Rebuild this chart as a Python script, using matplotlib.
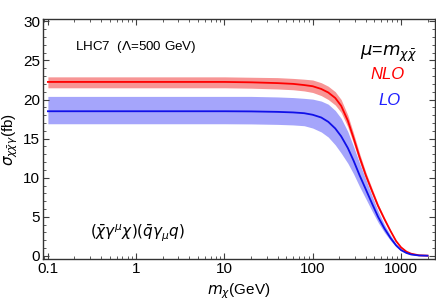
import numpy as np
import matplotlib
matplotlib.use("Agg")
import matplotlib.pyplot as plt
from matplotlib.ticker import LogLocator, MultipleLocator, FixedLocator, FixedFormatter, NullFormatter

plt.rcParams["font.family"] = ["Liberation Sans", "DejaVu Sans"]
plt.rcParams["mathtext.fontset"] = "dejavusans"

# dark-matter mass (GeV)
mass = [0.1, 0.3, 1, 3, 10, 20, 40, 60, 80, 100, 125, 150, 180, 210, 250, 290, 340,
        400, 470, 550, 650, 760, 880, 1000, 1150, 1300, 1600, 2000]
# NLO cross section (fb): central, upper, lower scale band
nlo = [22.25, 22.25, 22.25, 22.25, 22.25, 22.2, 22.1, 22.0, 21.85, 21.7, 21.35, 20.9, 20.2, 19.2, 17.3, 15.1, 12.6,
       10.3, 8.3, 6.4, 4.7, 3.2, 1.9, 1.1, 0.55, 0.28, 0.07, 0.03]
nlo_up = [22.9, 22.9, 22.9, 22.9, 22.9, 22.85, 22.8, 22.7, 22.6, 22.5, 22.15, 21.7, 21.0, 20.0, 18.0, 15.7, 13.1,
          10.7, 8.65, 6.65, 4.9, 3.33, 1.98, 1.15, 0.57, 0.29, 0.073, 0.031]
nlo_dn = [21.5, 21.5, 21.5, 21.5, 21.5, 21.45, 21.35, 21.25, 21.1, 20.9, 20.5, 20.0, 19.3, 18.35, 16.5, 14.4, 12.0,
          9.85, 7.9, 6.1, 4.5, 3.05, 1.82, 1.05, 0.53, 0.27, 0.067, 0.029]
# LO cross section (fb)
lo = [18.5, 18.5, 18.5, 18.5, 18.5, 18.48, 18.42, 18.35, 18.25, 18.05, 17.7, 17.15, 16.3, 15.3, 13.8, 12.2, 10.3,
      8.5, 6.7, 5.0, 3.5, 2.3, 1.35, 0.75, 0.38, 0.18, 0.05, 0.02]
lo_up = [20.4, 20.4, 20.4, 20.4, 20.4, 20.4, 20.33, 20.25, 20.15, 20.05, 19.8, 19.4, 18.6, 17.6, 15.9, 14.0, 11.85,
         9.8, 7.7, 5.75, 4.0, 2.65, 1.55, 0.86, 0.44, 0.21, 0.06, 0.025]
lo_dn = [16.9, 16.9, 16.9, 16.9, 16.9, 16.88, 16.82, 16.75, 16.65, 16.35, 15.85, 15.2, 14.2, 13.15, 11.85, 10.5, 8.85,
         7.3, 5.75, 4.3, 3.0, 1.98, 1.16, 0.65, 0.33, 0.155, 0.043, 0.017]

xticks = [0.1, 1, 10, 100, 1000]
xticklabels = ["0.1", "1", "10", "100", "1000"]

fig = plt.figure(figsize=(4.36, 3.02), dpi=100)
ax = fig.add_axes([43/436, 1-259/302, 392/436, 240/302])

ax.fill_between(mass, nlo_dn, nlo_up, color="#f79595", lw=0)
ax.fill_between(mass, lo_dn, lo_up, color="#a5a5fb", lw=0)
ax.plot(mass, nlo, color="#ff0000", lw=1.3)
ax.plot(mass, lo, color="#1010e8", lw=1.3)

ax.set_xscale("log")
ax.set_xlim(0.088, 2430)
ax.set_ylim(-0.4, 30.3)
ax.xaxis.set_major_locator(FixedLocator(xticks))
ax.xaxis.set_major_formatter(FixedFormatter(xticklabels))
ax.xaxis.set_minor_locator(LogLocator(base=10, subs=np.arange(2, 10)))
ax.xaxis.set_minor_formatter(NullFormatter())
ax.yaxis.set_major_locator(MultipleLocator(5))
ax.yaxis.set_minor_locator(MultipleLocator(1))
ax.tick_params(which="both", direction="in", top=True, right=True, color="0.25", labelsize=11, pad=2)
ax.tick_params(which="major", length=4, width=0.8)
ax.tick_params(which="minor", length=2, width=0.6)
for sp in ax.spines.values():
    sp.set_color("0.2"); sp.set_linewidth(1.0)

ax.set_xlabel(r"$m_{\chi}$(GeV)", fontsize=11, labelpad=4)
ax.set_ylabel(r"$\sigma_{\chi\bar{\chi}\gamma}$(fb)", fontsize=11, labelpad=2)

ax.text(0.082, 0.883, r"LHC7  ($\Lambda$=500 GeV)", transform=ax.transAxes, fontsize=9.6, va="center")
ax.text(0.955, 0.845, r"$\mu$=$m_{\chi\bar{\chi}}$", transform=ax.transAxes, fontsize=13, ha="right")
ax.text(0.878, 0.767, "NLO", transform=ax.transAxes, fontsize=12, color="#ff0000", style="italic",
        ha="center", va="center")
ax.text(0.883, 0.6625, "LO", transform=ax.transAxes, fontsize=12, color="#2020ff", style="italic",
        ha="center", va="center")
ax.text(0.24, 0.108, r"$(\bar{\chi}\gamma^{\mu}\chi)(\bar{q}\gamma_{\mu}q)$", transform=ax.transAxes, fontsize=11,
        ha="center", va="center")

fig.savefig("out.png", dpi=100)
